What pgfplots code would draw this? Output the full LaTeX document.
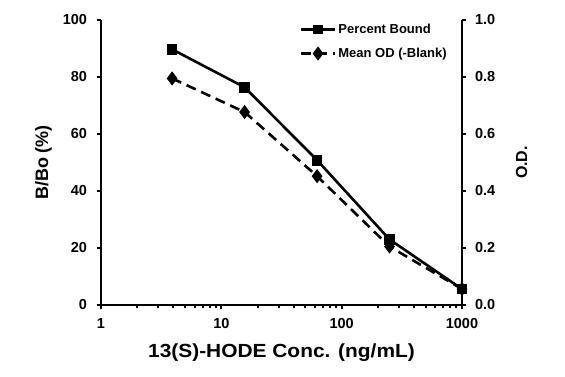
\documentclass[border=0pt]{standalone}
\usepackage{fontspec}
\setmainfont{Liberation Sans}
\usepackage{pgfplots}
\pgfplotsset{compat=1.18}
\begin{document}
\begin{tikzpicture}
\begin{axis}[
  scale only axis, width=361pt, height=285pt,
  xmode=log, xmin=1, xmax=1000,
  tick style={line width=2pt, black},
  major tick length=4.5pt,
  tick align=outside,
  axis line style={line width=2.8pt},
  ticklabel style={font=\bfseries\fontsize{14.5}{16}\selectfont},
  /pgf/number format/assume math mode=true,
  name=main,
  axis x line*=bottom, axis y line*=left,
  ymin=0, ymax=100, ytick={0,20,40,60,80,100},
  xtick={1,10,100,1000}, xticklabels={1,10,100,1000},
  minor xtick={},
  xlabel={\scalebox{1.1}[1]{13(S)-HODE Conc. (ng/mL)}},
  xlabel style={font=\bfseries\fontsize{19}{22}\selectfont, yshift=-9pt},
  ylabel={B/Bo (\%)},
  ylabel style={font=\bfseries\fontsize{18}{21}\selectfont, yshift=4pt},
  yticklabel style={xshift=-6pt},
  xticklabel style={yshift=-5pt},
]
\addplot[black, line width=2.6pt, mark=square*, mark size=4pt, mark options={solid}]
  coordinates {(3.9,89.7) (15.6,76.4) (62.5,50.8) (250,23.0) (1000,5.6)};
\end{axis}
\begin{axis}[
  scale only axis, width=361pt, height=285pt,
  xmode=log, xmin=1, xmax=1000,
  tick style={line width=2pt, black},
  major tick length=4.5pt,
  tick align=outside,
  axis line style={line width=2.8pt},
  ticklabel style={font=\bfseries\fontsize{14.5}{16}\selectfont},
  /pgf/number format/assume math mode=true,
  axis x line=none, axis y line*=right,
  ymin=0, ymax=1, ytick={0,0.2,0.4,0.6,0.8,1.0},
  yticklabel style={xshift=5pt, /pgf/number format/.cd, fixed, fixed zerofill, precision=1},
  ylabel={O.D.},
  ylabel style={font=\bfseries\fontsize{16}{19}\selectfont, yshift=-14pt},
  legend style={draw=none, fill=none, at={(0.55,1.0)}, anchor=north west,
    font=\bfseries\fontsize{13}{15}\selectfont, row sep=9pt, inner xsep=0pt},
  legend cell align=left,
  legend image code/.code={\draw[#1, mark=none] (0pt,0pt) -- (34pt,0pt); \draw[#1, solid] plot coordinates {(17pt,0pt)};},
]
\addlegendimage{black, line width=2.6pt, mark=square*, mark size=3.5pt}
\addlegendentry{Percent Bound}
\addplot[black, line width=2.6pt, dash pattern=on 10pt off 6pt, mark=diamond*, mark size=5pt, mark options={solid}]
  coordinates {(3.9,0.795) (15.6,0.677) (62.5,0.452) (250,0.205) (1000,0.056)};
\addlegendentry{Mean OD (-Blank)}
\end{axis}
\pgfresetboundingbox
\path[use as bounding box] ([xshift=-101pt,yshift=-72pt]main.south west) rectangle ([xshift=103pt,yshift=20pt]main.north east);
\end{tikzpicture}
\end{document}
